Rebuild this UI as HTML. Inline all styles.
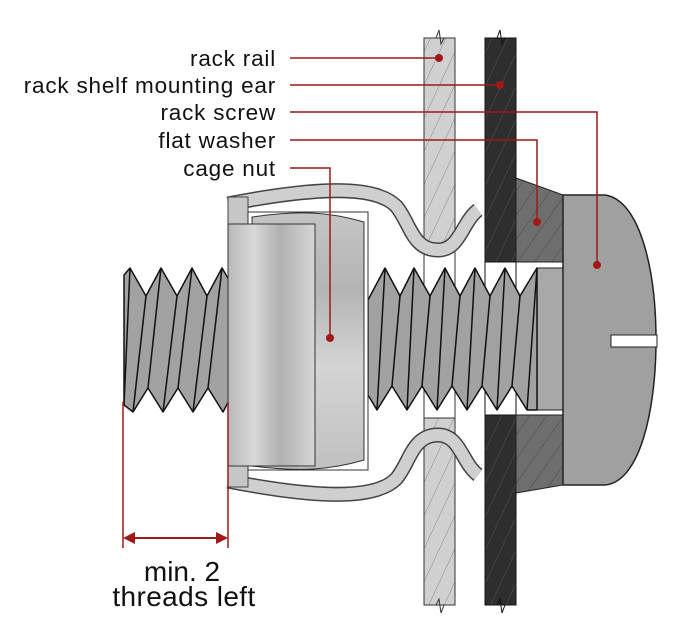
<!DOCTYPE html>
<html><head><meta charset="utf-8"><style>
html,body{margin:0;padding:0;background:#fff;}
svg{display:block;}
text{font-family:"Liberation Sans",Arial,sans-serif;fill:#111;}
</style></head><body>
<svg width="679" height="639" viewBox="0 0 679 639" xmlns="http://www.w3.org/2000/svg">
<defs>
<pattern id="hl" width="14" height="14" patternUnits="userSpaceOnUse" patternTransform="rotate(25)">
<rect width="14" height="14" fill="#d0d0d0"/><line x1="0" y1="0" x2="0" y2="14" stroke="#888" stroke-width="1"/></pattern>
<pattern id="hd" width="14" height="14" patternUnits="userSpaceOnUse" patternTransform="rotate(25)">
<rect width="14" height="14" fill="#2e2e2e"/><line x1="0" y1="0" x2="0" y2="14" stroke="#555" stroke-width="1"/></pattern>
<pattern id="hw" width="14" height="14" patternUnits="userSpaceOnUse" patternTransform="rotate(35)">
<rect width="14" height="14" fill="#6e6e6e"/><line x1="0" y1="0" x2="0" y2="14" stroke="#4a4a4a" stroke-width="1"/></pattern>
<linearGradient id="gn" x1="0" x2="1" y1="0" y2="0">
<stop offset="0" stop-color="#b8b8b8"/><stop offset="0.3" stop-color="#d8d8d8"/><stop offset="0.6" stop-color="#b0b0b0"/><stop offset="1" stop-color="#d6d6d6"/></linearGradient>
<linearGradient id="gb" x1="0" x2="0" y1="0" y2="1">
<stop offset="0" stop-color="#c4c4c4"/><stop offset="0.3" stop-color="#b4b4b4"/><stop offset="0.6" stop-color="#d4d4d4"/><stop offset="1" stop-color="#c0c0c0"/></linearGradient>
</defs>

<rect x="424" y="38" width="31" height="214" fill="url(#hl)" stroke="#333"/>
<rect x="424" y="252" width="31" height="166" fill="#fff" stroke="#333"/>
<rect x="424" y="418" width="31" height="187" fill="url(#hl)" stroke="#333"/>
<rect x="485" y="38" width="31" height="224" fill="url(#hd)" stroke="#111"/>
<rect x="485" y="262" width="31" height="153" fill="#fff" stroke="#111"/>
<rect x="485" y="415" width="31" height="190" fill="url(#hd)" stroke="#111"/>
<path d="M436,38 l3,-8 l2,14 l3,-6" fill="none" stroke="#333"/>
<path d="M436,605 l3,-6 l2,14 l3,-8" fill="none" stroke="#333"/>
<path d="M497,38 l3,-8 l2,14 l3,-6" fill="none" stroke="#111"/>
<path d="M497,605 l3,-6 l2,14 l3,-8" fill="none" stroke="#111"/>

<polygon points="516,178 563,195 563,262 516,262" fill="url(#hw)" stroke="#222"/>
<polygon points="516,415 563,415 563,485 516,493" fill="url(#hw)" stroke="#222"/>

<polygon points="124,275 130,268 146,296 161,268 177,296 192,268 207,296 222,268 232,285 232,395 223,412 208,388 193,412 178,388 163,412 148,388 133,412 124,405" fill="#a2a2a2" stroke="#111" stroke-width="1.5" stroke-linejoin="round"/>
<g stroke="#111" stroke-width="1.5">
<line x1="130" y1="268" x2="124" y2="405"/><line x1="146" y1="296" x2="133" y2="412"/><line x1="161" y1="268" x2="148" y2="388"/><line x1="177" y1="296" x2="163" y2="412"/><line x1="192" y1="268" x2="178" y2="388"/><line x1="207" y1="296" x2="193" y2="412"/><line x1="222" y1="268" x2="208" y2="388"/>
</g>
<rect x="537" y="268" width="26" height="142" fill="#a8a8a8" stroke="#222"/>
<polygon points="368,300 385,268 400,296 414,268 430,296 445,268 460,296 475,268 490,296 505,268 520,296 537,268 537,410 527,410 512,386 497,410 482,386 467,410 452,386 437,410 422,386 407,410 392,386 377,410 368,395" fill="#a2a2a2" stroke="#111" stroke-width="1.5" stroke-linejoin="round"/>
<g stroke="#111" stroke-width="1.5">
<line x1="385" y1="268" x2="377" y2="410"/><line x1="400" y1="296" x2="392" y2="386"/><line x1="414" y1="268" x2="407" y2="410"/><line x1="430" y1="296" x2="422" y2="386"/><line x1="445" y1="268" x2="437" y2="410"/><line x1="460" y1="296" x2="452" y2="386"/><line x1="475" y1="268" x2="467" y2="410"/><line x1="490" y1="296" x2="482" y2="386"/><line x1="505" y1="268" x2="497" y2="410"/><line x1="520" y1="296" x2="512" y2="386"/><line x1="537" y1="268" x2="527" y2="410"/>
</g>

<path d="M563,195 L605,195 C640,200 656,270 656,340 C656,410 640,482 605,485 L563,485 Z" fill="#a0a0a0" stroke="#222" stroke-width="1.5"/>
<rect x="611" y="335" width="46" height="12" fill="#fff" stroke="#222"/>

<g fill="none" stroke-linecap="butt">
<path d="M228,204 C300,190 372,182 396,206 C410,222 412,250 438,250 C460,250 462,222 478,210" stroke="#444" stroke-width="15"/>
<path d="M228,204 C300,190 372,182 396,206 C410,222 412,250 438,250 C460,250 462,222 478,210" stroke="#cfcfcf" stroke-width="12"/>
<g transform="translate(0,685) scale(1,-1)">
<path d="M228,204 C300,190 372,182 396,206 C410,222 412,250 438,250 C460,250 462,222 478,210" stroke="#444" stroke-width="15"/>
<path d="M228,204 C300,190 372,182 396,206 C410,222 412,250 438,250 C460,250 462,222 478,210" stroke="#cfcfcf" stroke-width="12"/>
</g>
</g>
<rect x="228" y="197" width="20" height="290" fill="#c6c6c6" stroke="#444"/>

<rect x="248" y="212" width="120" height="258" fill="#fff" stroke="#333"/>
<path d="M252,217 C300,210 330,212 364,222 L364,460 C330,470 300,472 252,466 Z" fill="url(#gb)" stroke="#333"/>
<rect x="228" y="224" width="87" height="242" fill="url(#gn)" stroke="#333"/>

<g stroke="#a01818" stroke-width="1.5" fill="none">
<polyline points="290,58 439,58"/>
<polyline points="290,85 500,85"/>
<polyline points="290,112 597,112 597,265"/>
<polyline points="290,140 537,140 537,222"/>
<polyline points="290,168 330,168 330,338"/>
<line x1="123" y1="402" x2="123" y2="548"/>
<line x1="228" y1="402" x2="228" y2="548"/>
<line x1="130" y1="538" x2="221" y2="538" stroke-width="2"/>
</g>
<g fill="#a01818">
<circle cx="439" cy="58" r="4"/><circle cx="500" cy="85" r="4"/><circle cx="597" cy="265" r="4"/><circle cx="537" cy="222" r="4"/><circle cx="330" cy="338" r="4"/>
<polygon points="123,538 135,532 135,544"/><polygon points="228,538 216,532 216,544"/>
</g>

<g font-size="22.5" text-anchor="end" letter-spacing="0.8">
<text x="276" y="66">rack rail</text>
<text x="276" y="93">rack shelf mounting ear</text>
<text x="276" y="120">rack screw</text>
<text x="276" y="148">flat washer</text>
<text x="276" y="176">cage nut</text>
</g>
<g font-size="28" text-anchor="middle">
<text x="182" y="581">min. 2</text>
<text x="184" y="606" letter-spacing="0.4">threads left</text>
</g>
</svg>
</body></html>
